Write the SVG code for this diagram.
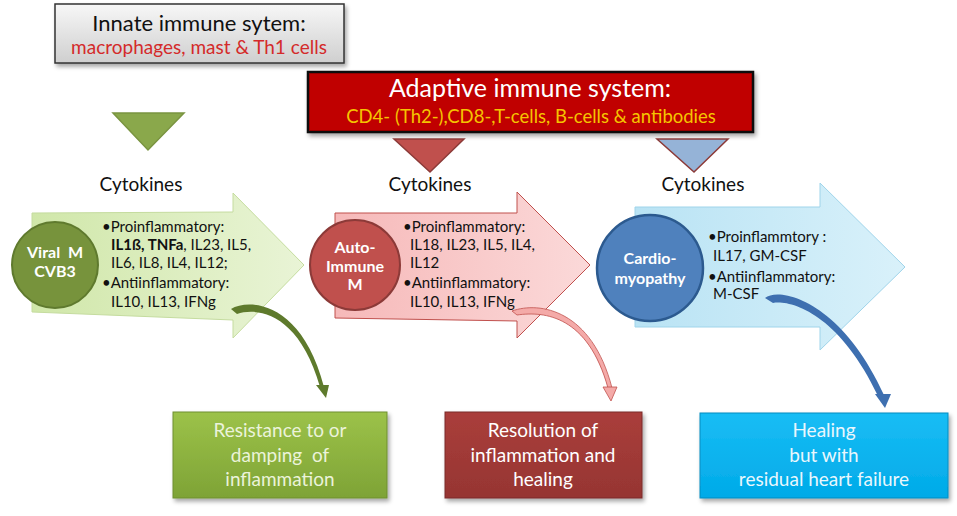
<svg xmlns="http://www.w3.org/2000/svg" width="957" height="516" viewBox="0 0 957 516">
<defs>
  <linearGradient id="gGray" x1="0" y1="0" x2="0" y2="1"><stop offset="0" stop-color="#f7f7f7"/><stop offset="1" stop-color="#cfcfcf"/></linearGradient>
  <linearGradient id="gGreenA" x1="0" y1="0" x2="1" y2="0"><stop offset="0" stop-color="#d0e7a9"/><stop offset="1" stop-color="#e9f4d6"/></linearGradient>
  <linearGradient id="gRedA" x1="0" y1="0" x2="1" y2="0"><stop offset="0" stop-color="#f6b9b9"/><stop offset="1" stop-color="#fbd9d9"/></linearGradient>
  <linearGradient id="gBlueA" x1="0" y1="0" x2="1" y2="0"><stop offset="0" stop-color="#b9e3f4"/><stop offset="1" stop-color="#d9f1fa"/></linearGradient>
  <linearGradient id="gGreenB" x1="0" y1="0" x2="0" y2="1"><stop offset="0" stop-color="#9cc249"/><stop offset="1" stop-color="#7ea336"/></linearGradient>
  <linearGradient id="gRedB" x1="0" y1="0" x2="0" y2="1"><stop offset="0" stop-color="#aa3e3b"/><stop offset="1" stop-color="#963532"/></linearGradient>
  <linearGradient id="gBlueB" x1="0" y1="0" x2="0" y2="1"><stop offset="0" stop-color="#19bdf5"/><stop offset="1" stop-color="#00aae8"/></linearGradient>
  <filter id="sh" x="-10%" y="-10%" width="130%" height="140%"><feDropShadow dx="2" dy="3" stdDeviation="2" flood-color="#000" flood-opacity="0.35"/></filter>
</defs>
<style>
  text { font-family: Lato, "Liberation Sans", sans-serif; }
  .t1 { font-size: 22px; fill: #111; }
  .t1r { font-size: 19px; fill: #d42a2a; }
  .ta { font-size: 25px; fill: #ffffff; }
  .tay { font-size: 18.5px; fill: #f5c400; }
  .cyt { font-size: 19px; fill: #111; }
  .lst { font-size: 15px; fill: #111; }
  .circ { font-size: 16px; font-weight: bold; fill: #ffffff; }
  .box { font-size: 19px; text-anchor: middle; }
  .mid { text-anchor: middle; }
</style>

<g id="innate">
  <rect x="55" y="4" width="289" height="59" fill="url(#gGray)" stroke="#333" stroke-width="1.5" filter="url(#sh)"/>
  <text class="t1 mid" x="199" y="31">Innate immune sytem:</text>
  <text class="t1r mid" x="199" y="54">macrophages, mast &amp; Th1 cells</text>
</g>

<g id="adaptive">
  <rect x="308" y="72" width="445" height="60" fill="#c00000" stroke="#111" stroke-width="2.5" filter="url(#sh)"/>
  <text class="ta mid" x="530" y="97">Adaptive immune system:</text>
  <text class="tay mid" x="531" y="123">CD4- (Th2-),CD8-,T-cells, B-cells &amp; antibodies</text>
</g>

<g id="tri-green"><polygon points="113,113 184,113 148,150" fill="#8aa84b" stroke="#7a9440" stroke-width="1.5"/></g>
<g id="tri-red"><polygon points="394,139 464,139 430,172" fill="#c0504d" stroke="#8c3a38" stroke-width="1.5"/></g>
<g id="tri-blue"><polygon points="657,139 728,139 694,172" fill="#95b3d7" stroke="#8c3a38" stroke-width="1.5"/></g>

<g id="cyt-labels">
  <text class="cyt mid" x="141" y="191">Cytokines</text>
  <text class="cyt mid" x="430" y="191">Cytokines</text>
  <text class="cyt mid" x="703" y="191">Cytokines</text>
</g>

<g id="arrow-green">
  <polygon points="32,213 233,212 233,193 304,265 233,338 233,320 32,312" fill="url(#gGreenA)" stroke="#c5dc9f" stroke-width="1"/>
  <text class="lst" x="102" y="232">•Proinflammatory:</text>
  <text class="lst" x="111" y="250"><tspan font-weight="bold">IL1ß, TNFa</tspan>, IL23, IL5,</text>
  <text class="lst" x="111" y="268">IL6, IL8, IL4, IL12;</text>
  <text class="lst" x="102" y="288">•Antiinflammatory:</text>
  <text class="lst" x="111" y="307">IL10, IL13, IFNg</text>
</g>
<g id="circle-green">
  <circle cx="55" cy="265" r="43" fill="#77933c" stroke="#5f7a2e" stroke-width="2"/>
  <text class="circ mid" x="55" y="258" xml:space="preserve">Viral  M</text>
  <text class="circ mid" x="55" y="277">CVB3</text>
</g>

<g id="arrow-red">
  <polygon points="335,213 517,213 517,192 590,265 517,338 517,321 335,318" fill="url(#gRedA)" stroke="#c0504d" stroke-width="1"/>
  <text class="lst" x="403" y="232">•Proinflammatory:</text>
  <text class="lst" x="410" y="250">IL18, IL23, IL5, IL4,</text>
  <text class="lst" x="410" y="268">IL12</text>
  <text class="lst" x="403" y="288">•Antiinflammatory:</text>
  <text class="lst" x="410" y="307">IL10, IL13, IFNg</text>
</g>
<g id="circle-red">
  <circle cx="355" cy="265" r="45" fill="#c0504d" stroke="#8c3a38" stroke-width="2"/>
  <text class="circ mid" x="355" y="253">Auto-</text>
  <text class="circ mid" x="355" y="272">Immune</text>
  <text class="circ mid" x="355" y="290">M</text>
</g>

<g id="arrow-blue">
  <polygon points="635,207 820,207 820,183 905,267 820,350 820,327 635,327" fill="url(#gBlueA)" stroke="#9fd4ea" stroke-width="1"/>
  <text class="lst" x="708" y="242">•Proinflammtory :</text>
  <text class="lst" x="713" y="261">IL17, GM-CSF</text>
  <text class="lst" x="708" y="282">•Antiinflammatory:</text>
  <text class="lst" x="713" y="299">M-CSF</text>
</g>
<g id="circle-blue">
  <circle cx="650" cy="268" r="53" fill="#4f81bd" stroke="#2c5a8f" stroke-width="2.5"/>
  <text class="circ mid" x="650" y="264">Cardio-</text>
  <text class="circ mid" x="650" y="284">myopathy</text>
</g>

<g id="connectors">
  <path d="M231,309 C250,298 302,302 324,387 L320,387 C299,313 258,307 237,314 Z" fill="#5e7a2c"/>
  <polygon points="316,385 329,385 326,398" fill="#5e7a2c"/>
  <path d="M512,311 C540,301 592,310 612,388 L608,388 C588,316 545,311 517,315 Z" fill="#f4aaa8" stroke="#c0504d" stroke-width="0.8"/>
  <polygon points="603,387 617,387 611,401" fill="#f4aaa8" stroke="#c0504d" stroke-width="0.8"/>
  <path d="M765,298 C780,286 842,302 884,395 L878,396 C838,312 790,300 773,303 Z" fill="#3e6fb0"/>
  <polygon points="875,394 891,394 885,408" fill="#3e6fb0"/>
</g>

<g id="out-green">
  <rect x="173" y="412" width="214" height="86" fill="url(#gGreenB)" stroke="#6f8f30" stroke-width="1" filter="url(#sh)"/>
  <text class="box" x="280" y="437" fill="#ebf3da">Resistance to or</text>
  <text class="box" x="280" y="462" fill="#ebf3da" xml:space="preserve">damping  of</text>
  <text class="box" x="280" y="486" fill="#ebf3da">inflammation</text>
</g>
<g id="out-red">
  <rect x="445" y="412" width="197" height="86" fill="url(#gRedB)" stroke="#7a2b29" stroke-width="1" filter="url(#sh)"/>
  <text class="box" x="543" y="437" fill="#ffffff">Resolution of</text>
  <text class="box" x="543" y="462" fill="#ffffff">inflammation and</text>
  <text class="box" x="543" y="486" fill="#ffffff">healing</text>
</g>
<g id="out-blue">
  <rect x="700" y="413" width="248" height="85" fill="url(#gBlueB)" stroke="#0a8cc0" stroke-width="1" filter="url(#sh)"/>
  <text class="box" x="824" y="437" fill="#eaf7fd">Healing</text>
  <text class="box" x="824" y="462" fill="#eaf7fd">but with</text>
  <text class="box" x="824" y="486" fill="#eaf7fd">residual heart failure</text>
</g>
</svg>
